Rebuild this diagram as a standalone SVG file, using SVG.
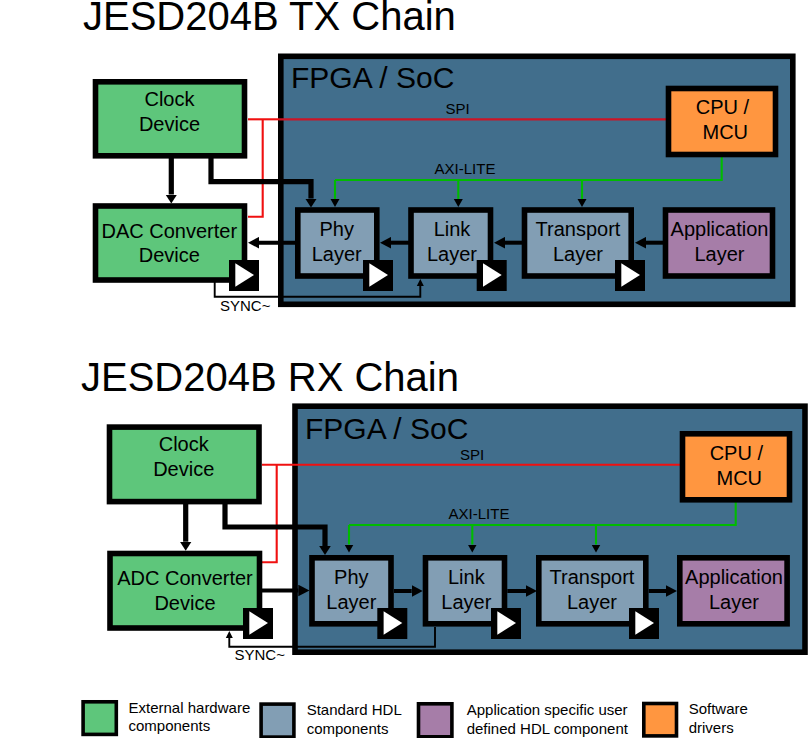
<svg xmlns="http://www.w3.org/2000/svg" width="808" height="738" viewBox="0 0 808 738">
<style>
text{font-family:"Liberation Sans",Arial,sans-serif;fill:#000}
.t{font-size:20px;text-anchor:middle}
.h{font-size:40px}
.f{font-size:30px}
.s{font-size:15px}
.m{text-anchor:middle}
.box{stroke:#000;stroke-width:5.6}
.fpga{fill:#416e8c;stroke:#000;stroke-width:5.6}
.hw{fill:#5ec67b}
.hdl{fill:#829eb4}
.app{fill:#a67da8}
.sw{fill:#ff9640}
.leg{stroke:#000;stroke-width:3.6}
.tri{fill:#fff}
.red{fill:none;stroke:#f01010;stroke-width:2.1}
.dred{fill:none;stroke:#cc1426;stroke-width:2.3}
.grn{fill:none;stroke:#00bb00;stroke-width:2.1;marker-end:url(#ah)}
.gn{fill:none;stroke:#00bb00;stroke-width:2.1}
.thickm{fill:none;stroke:#000;stroke-width:5.2;marker-end:url(#ad)}
.data{fill:none;stroke:#000;stroke-width:4;marker-end:url(#ab)}
.sync{fill:none;stroke:#000;stroke-width:1.9;marker-end:url(#as)}
</style>
<defs>
<marker id="ab" markerUnits="userSpaceOnUse" markerWidth="11" markerHeight="12" refX="0" refY="6" orient="auto"><path d="M0 .2L11 6L0 11.8Z"/></marker>
<marker id="ad" markerUnits="userSpaceOnUse" markerWidth="9" markerHeight="12" refX="0" refY="6" orient="auto"><path d="M0 .2L9 6L0 11.8Z"/></marker>
<marker id="ah" markerUnits="userSpaceOnUse" markerWidth="8" markerHeight="10" refX="0" refY="5" orient="auto"><path d="M0 .5L8 5L0 9.5Z"/></marker>
<marker id="as" markerUnits="userSpaceOnUse" markerWidth="7" markerHeight="8" refX="0" refY="4" orient="auto"><path d="M0 .5L7 4L0 7.5Z"/></marker>
<g id="clk"><rect x="0" y="0" width="30" height="31"/><path class="tri" d="M6.3 3.3L25 15L6.3 26.7Z"/></g>
</defs>

<text class="h" x="83" y="29.5">JESD204B TX Chain</text>
<text class="h" x="81" y="391">JESD204B RX Chain</text>

<g id="tx-fpga"><rect class="fpga" x="280.8" y="56.3" width="512" height="248"/><text class="f" x="291" y="87.5">FPGA / SoC</text></g>
<g id="rx-fpga"><rect class="fpga" x="295" y="406.2" width="510" height="246"/><text class="f" x="305" y="439">FPGA / SoC</text></g>

<g id="connectors">
<path class="red" d="M248 119.3H279"/>
<path class="dred" d="M279 119.3H666"/>
<path class="red" d="M262.7 119.3V216.7H248"/>
<path class="gn" d="M721.7 157V180H335"/>
<path class="grn" d="M335 180V199"/><path class="grn" d="M458.3 180V199"/><path class="grn" d="M582 180V199"/>
<path class="thickm" d="M171.3 158V194.5"/>
<path class="thickm" d="M211 158V181.7H311V198.5"/>
<path class="data" d="M296 242.7H259"/>
<path class="data" d="M409 242.7H391"/>
<path class="data" d="M522 242.7H505"/>
<path class="data" d="M663 242.7H646"/>
<path class="sync" d="M214.7 282V296.7H420.3V286"/>

<path class="red" d="M262 464.7H680"/>
<path class="red" d="M276.7 464.7V562.3H262"/>
<path class="gn" d="M735.7 502V525H349"/>
<path class="grn" d="M349 525V544.5"/><path class="grn" d="M472.3 525V544.5"/><path class="grn" d="M596 525V544.5"/>
<path class="thickm" d="M185.7 504V541.7"/>
<path class="thickm" d="M225 504V527H325V546"/>
<path class="data" d="M262 590.5H298.3"/>
<path class="data" d="M394 591H411.7"/>
<path class="data" d="M507.3 591H526"/>
<path class="data" d="M648.7 591H666"/>
<path class="sync" d="M435 627V646.7H229.3V638"/>
</g>

<g id="tx-clock"><rect class="box hw" x="95.5" y="81.8" width="149" height="74"/><text class="t" x="169.5" y="106">Clock</text><text class="t" x="169.5" y="131">Device</text></g>
<g id="tx-dac"><rect class="box hw" x="95.5" y="206" width="149" height="74"/><text class="t" x="169.3" y="237.5">DAC Converter</text><text class="t" x="169.3" y="262">Device</text><use href="#clk" x="229" y="260"/></g>
<g id="tx-phy"><rect class="box hdl" x="297.8" y="210" width="79" height="66"/><text class="t" x="336.7" y="236">Phy</text><text class="t" x="336.7" y="261">Layer</text><use href="#clk" x="363" y="260"/></g>
<g id="tx-link"><rect class="box hdl" x="411" y="210" width="79.5" height="66"/><text class="t" x="452" y="236">Link</text><text class="t" x="452" y="261">Layer</text><use href="#clk" x="476.7" y="260"/></g>
<g id="tx-transport"><rect class="box hdl" x="524.5" y="210" width="106.7" height="66"/><text class="t" x="578" y="236">Transport</text><text class="t" x="578" y="261">Layer</text><use href="#clk" x="615" y="260"/></g>
<g id="tx-app"><rect class="box app" x="665.5" y="210" width="107" height="66"/><text class="t" x="719.5" y="236">Application</text><text class="t" x="719.5" y="261">Layer</text></g>
<g id="tx-cpu"><rect class="box sw" x="668.5" y="88.5" width="107" height="66"/><text class="t" x="722.5" y="114">CPU /</text><text class="t" x="725.3" y="139">MCU</text></g>

<g id="rx-clock"><rect class="box hw" x="109.5" y="427.1" width="149.5" height="74.5"/><text class="t" x="183.7" y="451">Clock</text><text class="t" x="183.7" y="476">Device</text></g>
<g id="rx-adc"><rect class="box hw" x="110" y="553.5" width="149.5" height="74.5"/><text class="t" x="185" y="585">ADC Converter</text><text class="t" x="185" y="610">Device</text><use href="#clk" x="243" y="608"/></g>
<g id="rx-phy"><rect class="box hdl" x="312" y="557.8" width="79" height="66"/><text class="t" x="351.3" y="583.5">Phy</text><text class="t" x="351.3" y="608.5">Layer</text><use href="#clk" x="377.3" y="608"/></g>
<g id="rx-link"><rect class="box hdl" x="425.5" y="557.8" width="79" height="66"/><text class="t" x="466.3" y="583.5">Link</text><text class="t" x="466.3" y="608.5">Layer</text><use href="#clk" x="491" y="608"/></g>
<g id="rx-transport"><rect class="box hdl" x="538.8" y="557.8" width="107" height="66"/><text class="t" x="592" y="583.5">Transport</text><text class="t" x="592" y="608.5">Layer</text><use href="#clk" x="629" y="608"/></g>
<g id="rx-app"><rect class="box app" x="679.8" y="557.8" width="107.3" height="66"/><text class="t" x="734" y="583.5">Application</text><text class="t" x="734" y="608.5">Layer</text></g>
<g id="rx-cpu"><rect class="box sw" x="682.5" y="433.8" width="107" height="66"/><text class="t" x="736.3" y="459.5">CPU /</text><text class="t" x="739.3" y="484.5">MCU</text></g>

<g id="labels">
<text class="s m" x="457.5" y="114">SPI</text>
<text class="s m" x="465" y="174">AXI-LITE</text>
<text class="s" x="220" y="311">SYNC~</text>
<text class="s m" x="472" y="460">SPI</text>
<text class="s m" x="479" y="519">AXI-LITE</text>
<text class="s" x="234.5" y="660">SYNC~</text>
</g>

<g id="legend-hw"><rect class="leg hw" x="83.1" y="701.8" width="33.2" height="32.6"/><text class="s" x="128.5" y="712.7">External hardware</text><text class="s" x="128.5" y="731.3">components</text></g>
<g id="legend-hdl"><rect class="leg hdl" x="261.1" y="704.1" width="32.8" height="33"/><text class="s" x="306.7" y="714.7">Standard HDL</text><text class="s" x="306.7" y="733.7">components</text></g>
<g id="legend-app"><rect class="leg app" x="418.5" y="703.8" width="33.4" height="33"/><text class="s" x="466.7" y="714.7">Application specific user</text><text class="s" x="466.7" y="733.7">defined HDL component</text></g>
<g id="legend-sw"><rect class="leg sw" x="643.8" y="703.5" width="32.7" height="32.4"/><text class="s" x="688.7" y="714">Software</text><text class="s" x="688.7" y="732.7">drivers</text></g>
</svg>
